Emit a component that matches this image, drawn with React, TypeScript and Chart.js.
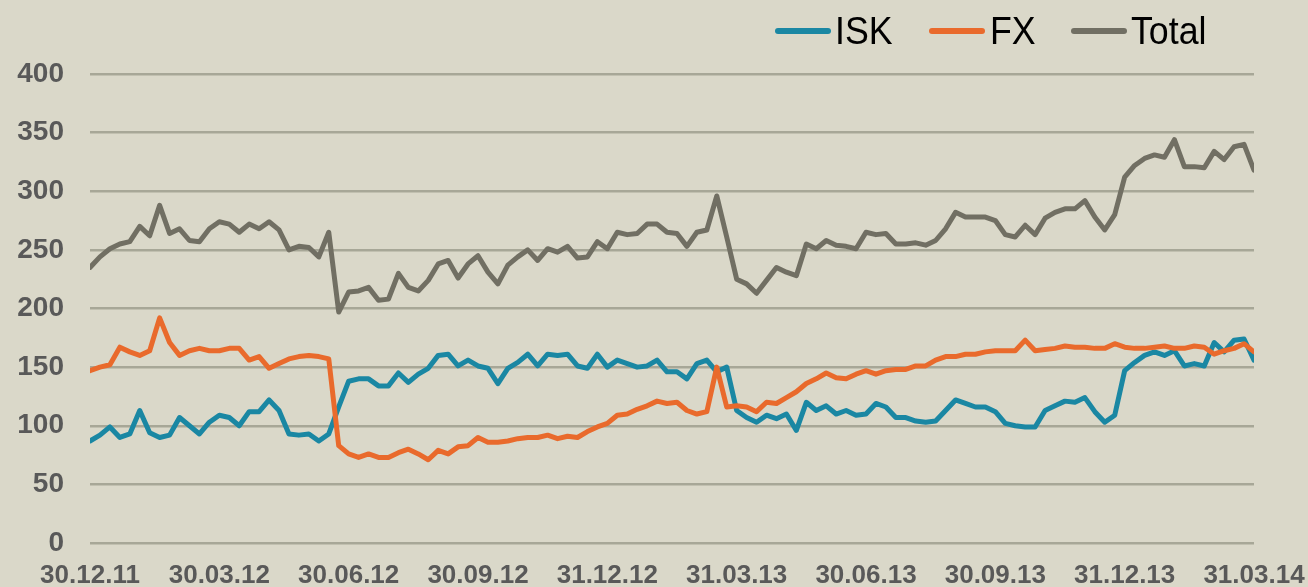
import React, { useEffect, useRef } from "react";
import { Chart, registerables } from "chart.js";

Chart.register(...registerables);

const TICK_LABELS = ["30.12.11", "30.03.12", "30.06.12", "30.09.12", "31.12.12", "31.03.13", "30.06.13", "30.09.13", "31.12.13", "31.03.14"];
const Y_TICKS = [0, 50, 100, 150, 200, 250, 300, 350, 400];
const SERIES_NAMES = ["ISK", "FX", "Total"];

const ISK = [
  87, 92, 99, 90, 93, 113, 94, 90, 92, 107, 100, 93, 103, 109, 107, 100, 112, 112, 122, 113, 93, 92, 93, 87, 93, 116, 138, 140, 140, 134,
  134, 145, 137, 144, 149, 160, 161, 151, 156, 151, 149, 136, 149, 154, 161, 151, 161, 160, 161, 151, 149, 161, 150, 156, 153, 150, 151, 156, 146, 146,
  140, 153, 156, 146, 150, 113, 107, 103, 109, 106, 110, 96, 120, 113, 117, 110, 113, 109, 110, 119, 116, 107, 107, 104, 103, 104, 113, 122, 119,
  116, 116, 112, 102, 100, 99, 99, 113, 117, 121, 120, 124, 112, 103, 109, 147, 154, 160, 163, 160, 164, 151, 153, 151, 171, 163, 173, 174, 156,
];

const FX = [
  147, 150, 152, 167, 163, 160, 164, 192, 171, 160, 164, 166, 164, 164, 166, 166, 156, 159, 149, 153, 157, 159, 160, 159, 157, 83, 76, 73, 76, 73,
  73, 77, 80, 76, 71, 79, 76, 82, 83, 90, 86, 86, 87, 89, 90, 90, 92, 89, 91, 90, 95, 99, 102, 109, 110, 114, 117, 121, 119, 120,
  113, 110, 112, 150, 116, 117, 116, 112, 120, 119, 124, 129, 136, 140, 145, 141, 140, 144, 147, 144, 147, 148, 148, 151, 151, 156, 159, 159, 161,
  161, 163, 164, 164, 164, 173, 164, 165, 166, 168, 167, 167, 166, 166, 170, 167, 166, 166, 167, 168, 166, 166, 168, 167, 161, 164, 166, 170, 163,
];

const TOTAL = [
  235, 244, 251, 255, 257, 270, 262, 288, 264, 268, 258, 257, 268, 274, 272, 265, 272, 268, 274, 267, 250, 253, 252, 244, 265, 197, 214, 215, 218, 207,
  208, 230, 218, 215, 224, 238, 241, 226, 238, 245, 231, 221, 237, 244, 250, 241, 251, 248, 253, 243, 244, 257, 251, 265, 263, 264, 272, 272, 265, 264,
  253, 265, 267, 296, 261, 225, 221, 213, 224, 235, 231, 228, 255, 251, 258, 254, 253, 251, 265, 263, 264, 255, 255, 256, 254, 258, 268, 282, 278,
  278, 278, 275, 263, 261, 271, 263, 277, 282, 285, 285, 292, 278, 267, 280, 312, 322, 328, 331, 329, 344, 321, 321, 320, 334, 327, 338, 340, 318,
];

const COLORS = ["#1a87a3", "#e96a2c", "#716f63"];
const BG = "#dad8c9";
const WEEKS_PER_QUARTER = 13;
const FONT = "'Liberation Sans', Arial, sans-serif";

function toPoints(arr: number[]) {
  return arr.map((y, i) => ({ x: i, y }));
}

export default function App() {
  const canvasRef = useRef<HTMLCanvasElement | null>(null);

  useEffect(() => {
    if (!canvasRef.current) return;
    const series = [ISK, FX, TOTAL];
    const chart = new Chart(canvasRef.current, {
      type: "line",
      data: {
        datasets: series.map((s, k) => ({
          label: SERIES_NAMES[k],
          data: toPoints(s),
          borderColor: COLORS[k],
          backgroundColor: COLORS[k],
          borderWidth: 5,
          pointRadius: 0,
          tension: 0,
          borderJoinStyle: "round" as const,
          borderCapStyle: "round" as const,
          order: 3 - k,
        })),
      },
      options: {
        animation: false,
        responsive: false,
        layout: { padding: { top: 74, right: 54, left: 0, bottom: 0 } },
        plugins: { legend: { display: false }, tooltip: { enabled: false } },
        scales: {
          x: {
            type: "linear",
            min: 0,
            max: (TICK_LABELS.length - 1) * WEEKS_PER_QUARTER,
            grid: { display: false, drawTicks: false },
            border: { display: false },
            afterBuildTicks: (scale: any) => {
              scale.ticks = TICK_LABELS.map((_, k) => ({ value: k * WEEKS_PER_QUARTER }));
            },
            afterFit: (scale: any) => {
              scale.height = 44;
              scale.paddingLeft = 0;
              scale.paddingRight = 0;
            },
            ticks: {
              autoSkip: false,
              maxRotation: 0,
              padding: 17,
              color: "#595959",
              font: { family: FONT, size: 26, weight: "bold" },
              callback: (v: any) => TICK_LABELS[Math.round(Number(v) / WEEKS_PER_QUARTER)] ?? "",
            },
          },
          y: {
            min: 0,
            max: 400,
            grid: { color: "#a7a797", lineWidth: 2.5, drawTicks: false },
            border: { display: false },
            afterBuildTicks: (scale: any) => {
              scale.ticks = Y_TICKS.map((v) => ({ value: v }));
            },
            afterFit: (scale: any) => {
              scale.width = 90;
            },
            ticks: {
              padding: 26,
              color: "#595959",
              font: { family: FONT, size: 28, weight: "bold" },
            },
          },
        },
      },
    });
    return () => chart.destroy();
  }, []);

  const legendItems = [
    { swatch: 775, text: 835 },
    { swatch: 929, text: 990 },
    { swatch: 1071, text: 1131 },
  ];

  return (
    <div style={{ position: "fixed", left: 0, top: 0, width: 1308, height: 587, background: BG, overflow: "hidden" }}>
      <canvas ref={canvasRef} width={1308} height={587} style={{ position: "absolute", left: 0, top: 0, width: 1308, height: 587 }} />
      {SERIES_NAMES.map((name, k) => (
        <React.Fragment key={name}>
          <div
            style={{
              position: "absolute",
              left: legendItems[k].swatch,
              top: 28,
              width: 56,
              height: 6,
              borderRadius: 3,
              background: COLORS[k],
            }}
          />
          <div
            style={{
              position: "absolute",
              left: legendItems[k].text,
              top: 12,
              fontFamily: FONT,
              fontSize: 38,
              lineHeight: "38px",
              color: "#000",
              transform: "scaleX(0.94)",
              transformOrigin: "left center",
              whiteSpace: "nowrap",
            }}
          >
            {name}
          </div>
        </React.Fragment>
      ))}
    </div>
  );
}
